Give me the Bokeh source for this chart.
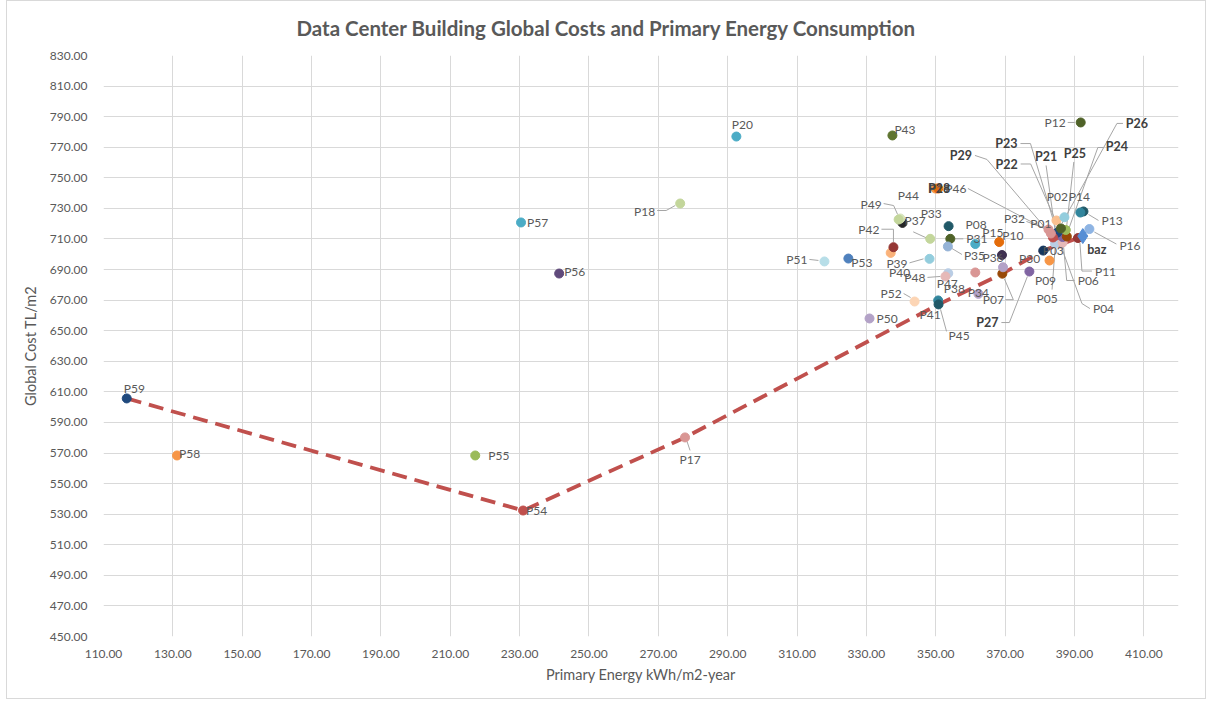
from bokeh.plotting import figure
from bokeh.models import Range1d, FixedTicker, NumeralTickFormatter, ColumnDataSource
from bokeh.embed import file_html
from bokeh.resources import INLINE
from bokeh.core.properties import value

# ---------------- data ----------------
names = ["P01", "P02", "P03", "P04", "P05", "P06", "P07", "P08", "P09", "P10",
         "P11", "P12", "P13", "P14", "P15", "P16", "P17", "P18", "P19", "P20",
         "P21", "P22", "P23", "P24", "P25", "P26", "P27", "P28", "P29", "P30",
         "P31", "P32", "P33", "P34", "P35", "P36", "P37", "P38", "P39", "P40",
         "P41", "P42", "P43", "P44", "P45", "P46", "P47", "P48", "P49", "P50",
         "P51", "P52", "P53", "P54", "P55", "P56", "P57", "P58", "P59", "baz"]

primary_energy = [384.8, 387.1, 381.0, 386.1, 384.4, 386.6, 369.2, 353.7, 382.8, 368.3,
                  391.0, 391.8, 392.6, 391.7, 361.4, 394.3, 277.7, 276.3, 349.9, 292.5,
                  384.7, 386.6, 385.1, 387.8, 387.5, 386.1, 377.0, 350.7, 383.8, 369.4,
                  354.2, 382.5, 348.4, 362.3, 353.5, 369.1, 340.4, 361.4, 348.2, 337.0,
                  350.7, 337.8, 337.5, 339.8, 350.8, 383.2, 353.6, 352.8, 339.3, 330.9,
                  317.9, 343.9, 324.8, 231.0, 217.2, 241.4, 230.4, 131.2, 116.7, 392.4]

global_cost = [722.1, 724.2, 702.4, 707.0, 707.0, 707.7, 687.3, 718.4, 695.9, 708.0,
               710.6, 786.2, 728.0, 727.3, 706.7, 716.5, 580.2, 733.2, 743.0, 777.0,
               712.3, 711.3, 714.2, 711.6, 715.9, 716.9, 688.7, 743.0, 711.0, 691.5,
               710.1, 716.2, 710.1, 674.1, 705.1, 699.5, 720.5, 688.1, 697.0, 700.9,
               669.8, 704.6, 777.7, 723.4, 667.2, 713.6, 687.6, 685.5, 722.7, 658.0,
               695.3, 669.1, 697.2, 532.4, 568.4, 687.4, 720.8, 568.4, 605.7, 711.9]

# cost-optimal front (dashed line) passes through these designs
front_names = ["P59", "P54", "P17", "P45", "P07", "P03", "P11"]

x_ticks = [110, 130, 150, 170, 190, 210, 230, 250, 270, 290, 310, 330, 350, 370, 390, 410]
y_ticks = [450, 470, 490, 510, 530, 550, 570, 590, 610, 630, 650, 670, 690, 710, 730, 750,
           770, 790, 810, 830]

title_text = "Data Center Building Global Costs and  Primary Energy Consumption"
x_title = "Primary Energy kWh/m2-year"
y_title = "Global Cost TL/m2"

# ---------------- styles ----------------
COLORS = {
    "P01": "#FAC090", "P02": "#93CDDD", "P03": "#17375E", "P04": "#D99694", "P05": "#B9CDE5",
    "P06": "#E6B9B8", "P07": "#984807", "P08": "#215968", "P09": "#F79646", "P10": "#E46C0A",
    "P11": "#953735", "P12": "#4F6228", "P13": "#215968", "P14": "#31859C", "P15": "#4BACC6",
    "P16": "#8EB4E3", "P17": "#D99694", "P18": "#C3D69B", "P19": "#F79646", "P20": "#4BACC6",
    "P21": "#C0504D", "P22": "#8064A2", "P23": "#1F497D", "P24": "#984807", "P25": "#9BBB59",
    "P26": "#4F6228", "P27": "#8064A2", "P28": "#E46C0A", "P29": "#C0504D", "P30": "#B3A2C7",
    "P31": "#4F6228", "P32": "#D99694", "P33": "#C3D69B", "P34": "#B3A2C7", "P35": "#95B3D7",
    "P36": "#3F3151", "P37": "#262626", "P38": "#D99694", "P39": "#93CDDD", "P40": "#FAB27A",
    "P41": "#31859C", "P42": "#953735", "P43": "#5F7530", "P44": "#D7E4BD", "P45": "#215968",
    "P46": "#D99694", "P47": "#B9CDE5", "P48": "#E6B9B8", "P49": "#C3D69B", "P50": "#B3A2C7",
    "P51": "#B7DEE8", "P52": "#FCD5B5", "P53": "#4F81BD", "P54": "#C0504D", "P55": "#9BBB59",
    "P56": "#604A7B", "P57": "#4BACC6", "P58": "#F79646", "P59": "#1F497D", "baz": "#558ED5",
}
BOLD = {"P21", "P22", "P23", "P24", "P25", "P26", "P27", "P28", "P29", "baz"}

# label placement: (dx px, dy px (down positive), align, leader polyline offsets in px)
LABELS = {
    "P59": (-3, -10, "left", None),
    "P58": (2, -2, "left", None),
    "P55": (13, 0, "left", None),
    "P54": (3, 0, "left", None),
    "P17": (5, 22, "center", [(2, 4), (5, 13)]),
    "P57": (6, 0, "left", None),
    "P56": (5, -2, "left", None),
    "P20": (6, -12, "center", None),
    "P18": (-25, 8, "right", [(-23, 7), (-14, 7), (-5, 2)]),
    "P43": (2, -6, "left", None),
    "P12": (-15, 0, "right", [(-13, 0), (-6, 0)]),
    "P51": (-17, -2, "right", [(-15, -2), (-6, -1)]),
    "P53": (3, 4, "left", None),
    "P50": (7, 0, "left", None),
    "P52": (-13, -8, "right", [(-11, -8), (-4, -4)]),
    "P41": (-8, 14, "center", None),
    "P45": (10, 31, "left", [(8, 27), (2, 5)]),
    "P42": (-14, -18, "right", [(-12, -18), (0, -18), (0, -5)]),
    "P40": (9, 20, "center", None),
    "P39": (-22, 5, "right", [(-20, 4), (-6, 0)]),
    "P49": (-17, -15, "right", [(-15, -16), (-5, -14), (-1, -5)]),
    "P44": (8, -23, "center", None),
    "P37": (2, -2, "left", None),
    "P33": (1, -25, "center", [(-17, -7), (-4, -1)]),
    "P08": (17, -2, "left", None),
    "P31": (16, 0, "left", [(4, 0), (13, 0)]),
    "P35": (16, 9, "left", [(4, 2), (14, 8)]),
    "P15": (7, -12, "left", None),
    "P10": (3, -7, "left", None),
    "P36": (-9, 2, "center", None),
    "P30": (16, -9, "left", None),
    "P27": (-31, 51, "right", [(-28, 51), (-20, 51), (-2, 5)]),
    "P07": (-9, 26, "center", [(3, 26), (11, 26), (2, 5)]),
    "P38": (-21, 16, "center", None),
    "P47": (-1, 10, "center", None),
    "P48": (-20, 1, "right", [(-18, 1), (-5, 0)]),
    "P34": (0, -1, "center", None),
    "P09": (-4, 20, "center", None),
    "P03": (10, 0, "center", None),
    "P01": (-5, 3, "right", None),
    "P02": (-7, -21, "center", None),
    "P14": (-1, -16, "center", None),
    "P13": (18, 9, "left", [(15, 9), (5, 3)]),
    "P16": (30, 16, "left", [(27, 15), (5, 3)]),
    "baz": (14, 13, "center", None),
    "P11": (17, 33, "left", [(14, 33), (4, 33), (2, 5)]),
    "P25": (9, -76, "center", [(8, -68), (1, -5)]),
    "P06": (15, 38, "left", [(12, 38), (4, 38), (1, 5)]),
    "P04": (32, 65, "left", [(29, 65), (21, 60), (1, 5)]),
    "P05": (-8, 55, "center", [(-3, 46), (0, 5)]),
    "P21": (-10, -79, "center", [(-10, -70), (-1, -5)]),
    "P22": (-56, -72, "center", [(-42, -73), (-32, -73), (-2, -5)]),
    "P23": (-51, -89, "center", [(-37, -89), (-27, -89), (-2, -5)]),
    "P24": (50, -90, "center", [(37, -89), (31, -89), (1, -5)]),
    "P26": (76, -105, "center", [(62, -105), (56, -105), (1, -5)]),
    "P29": (-92, -82, "center", [(-78, -82), (-66, -78), (-3, -4)]),
    "P46": (-95, -45, "center", [(-83, -45), (-3, -3)]),
    "P28": (1, 0, "center", None),
    "P19": (4, 0, "center", None),
    "P32": (-34, -11, "center", [(-22, -8), (-3, -1)]),
}

X_MIN, X_MAX = 110, 420
Y_MIN, Y_MAX = 450, 830
FRAME_W, FRAME_H = 1075, 581
BL, BR, BT, BB = 96, 29, 54, 64
SX = (X_MAX - X_MIN) / FRAME_W
SY = (Y_MAX - Y_MIN) / FRAME_H

FONT = "Lato"
GRAY = "#595959"

p = figure(width=BL + FRAME_W + BR, height=BT + FRAME_H + BB,
           x_range=Range1d(X_MIN, X_MAX), y_range=Range1d(Y_MIN, Y_MAX),
           output_backend="svg", toolbar_location=None,
           min_border_left=BL, min_border_right=BR, min_border_top=BT, min_border_bottom=BB)
p.styles = {"margin-left": "6px", "margin-top": "0px", "border": "1px solid #D9D9D9"}
p.outline_line_color = None
p.background_fill_color = "white"
p.border_fill_color = "white"

p.title.text = title_text
p.title.text_font = FONT
p.title.text_font_size = "20.5px"
p.title.text_font_style = "bold"
p.title.text_color = GRAY
p.title.align = "left"
p.title.offset = 193
p.title.vertical_align = "top"
p.title.standoff = 28

for ax, ticks, lab in ((p.xaxis, x_ticks, x_title), (p.yaxis, y_ticks, y_title)):
    ax.ticker = FixedTicker(ticks=ticks)
    ax.formatter = NumeralTickFormatter(format="0.00")
    ax.axis_line_color = None
    ax.major_tick_line_color = None
    ax.minor_tick_line_color = None
    ax.major_label_text_font = FONT
    ax.major_label_text_font_size = "12px"
    ax.major_label_text_color = GRAY
    ax.axis_label = lab
    ax.axis_label_text_font = FONT
    ax.axis_label_text_font_size = "14.5px"
    ax.axis_label_text_font_style = "normal"
    ax.axis_label_text_color = GRAY
p.xaxis.major_label_standoff = 7
p.yaxis.major_label_standoff = 10
p.xaxis.axis_label_standoff = 5
p.yaxis.axis_label_standoff = 8

p.xgrid.ticker = FixedTicker(ticks=x_ticks)
p.ygrid.ticker = FixedTicker(ticks=y_ticks)
p.grid.grid_line_color = "#D9D9D9"
p.grid.grid_line_width = 1

pos = {n: (x, y) for n, x, y in zip(names, primary_energy, global_cost)}

# cost-optimal front
p.line([pos[n][0] for n in front_names], [pos[n][1] for n in front_names],
       line_color="#C0504D", line_width=3.8, line_dash="15 8")

# leader lines
lx_list, ly_list = [], []
for n in names:
    spec = LABELS[n]
    if spec[3]:
        x0, y0 = pos[n]
        lx_list.append([x0 + dx * SX for dx, dy in spec[3]])
        ly_list.append([y0 - dy * SY for dx, dy in spec[3]])
p.multi_line(lx_list, ly_list, line_color="#A6A6A6", line_width=1)

# points
circ = [n for n in names if n != "baz"]
src = ColumnDataSource(dict(x=[pos[n][0] for n in circ], y=[pos[n][1] for n in circ],
                            c=[COLORS[n] for n in circ]))
p.scatter("x", "y", source=src, size=9, fill_color="c", line_color="c", marker="circle")
p.scatter([pos["baz"][0]], [pos["baz"][1]], size=15, marker="diamond",
          fill_color=COLORS["baz"], line_color=COLORS["baz"])

# labels
for align in ("left", "center", "right"):
    for bold in (False, True):
        sel = [n for n in names if LABELS[n][2] == align and ((n in BOLD) == bold)]
        if not sel:
            continue
        d = dict(x=[pos[n][0] + LABELS[n][0] * SX for n in sel],
                 y=[pos[n][1] - LABELS[n][1] * SY for n in sel],
                 t=sel)
        p.text("x", "y", text="t", source=ColumnDataSource(d), text_align=align,
               text_baseline="middle", text_font=value(FONT),
               text_font_size="12.5px" if bold else "12px",
               text_font_style="bold" if bold else "normal",
               text_color="#404040" if bold else GRAY)

open("out.html", "w").write(file_html(p, INLINE))
